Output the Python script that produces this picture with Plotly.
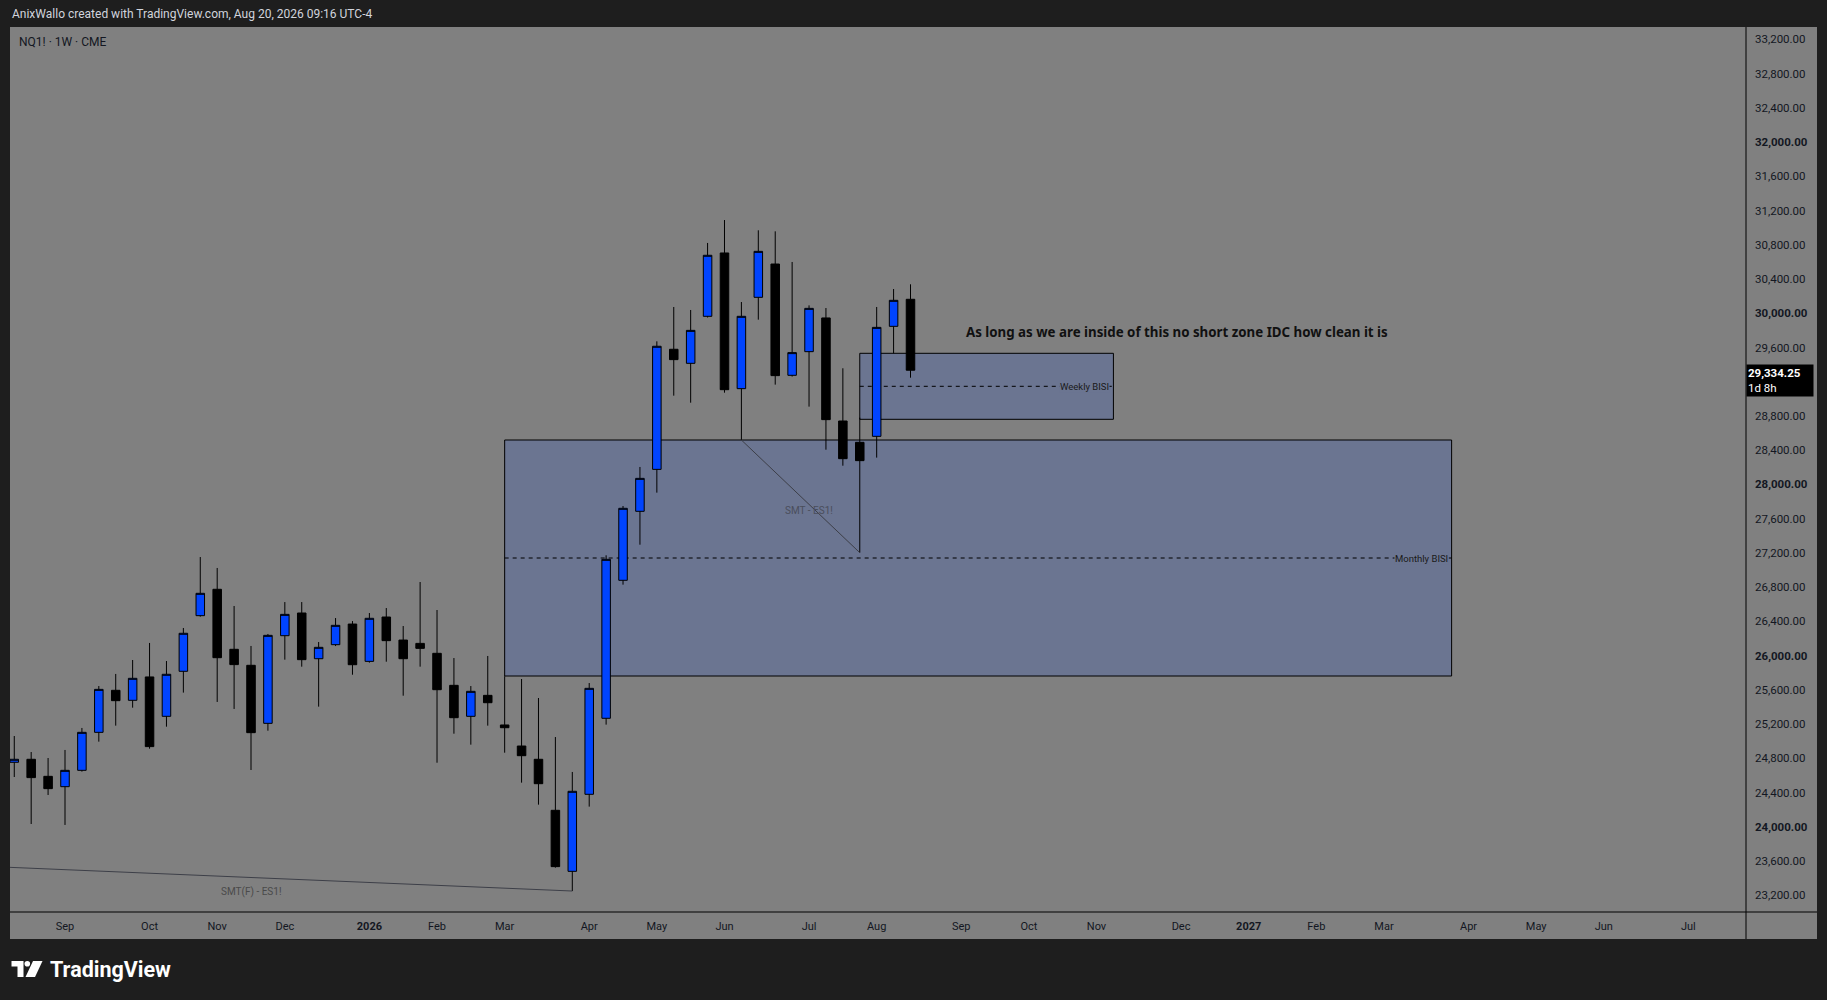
import pandas as pd
import plotly.graph_objects as go

# ---------------- data ----------------
weeks = pd.date_range("2025-08-11", periods=54, freq="7D")

opens = [24754, 24789, 24590, 24469, 24660, 25104, 25595, 25478, 25751, 25291,
         25817, 26467, 26775, 26074, 25887, 25209, 26233, 26498, 25964, 26128,
         26369, 25933, 26451, 26182, 26143, 26027, 25653, 25291, 25536, 25190,
         24944, 24789, 24193, 23480, 24380, 25268, 26880, 27686, 28176, 29579,
         29415, 29964, 30704, 29119, 30186, 30575, 29275, 29551, 29945, 28741,
         28492, 28562, 29847, 30163]
highs = [25061, 24874, 24804, 24898, 25155, 25645, 25786, 25949, 26148, 25937,
         26323, 27152, 27024, 26580, 26113, 26253, 26626, 26626, 26159, 26439,
         26404, 26498, 26556, 26346, 26860, 26533, 25972, 25645, 25996, 25760,
         25727, 25505, 25049, 24641, 25680, 27172, 27748, 28204, 29672, 30073,
         30038, 30821, 31089, 30131, 30969, 30957, 30599, 30092, 30061, 29357,
         28780, 30073, 30283, 30338]
lows = [24582, 24033, 24372, 24022, 24645, 24995, 25182, 25392, 24913, 25170,
        25568, 26455, 25459, 25377, 24664, 25123, 25953, 25871, 25404, 26112,
        25777, 25918, 25929, 25532, 25871, 24749, 25088, 24960, 25182, 24866,
        24516, 24259, 23523, 23250, 24236, 25194, 26829, 27296, 27904, 29037,
        28955, 29950, 29072, 28519, 29925, 29166, 29260, 28909, 28406, 28219,
        27203, 28313, 29532, 29247]
closes = [24789, 24575, 24446, 24660, 25104, 25606, 25474, 25735, 24937, 25782,
          26261, 26728, 25976, 25895, 25100, 26237, 26482, 25953, 26097, 26354,
          25894, 26436, 26175, 25964, 26085, 25602, 25275, 25583, 25450, 25158,
          24831, 24504, 23535, 24415, 25618, 27125, 27721, 28071, 29614, 29458,
          29800, 30677, 29107, 29964, 30723, 29271, 29540, 30057, 28757, 28301,
          28278, 29835, 30151, 29334.25]

last_price = 29334.25
last_countdown = "1d 8h"

# zones: [left week, right week, top, bottom]
weekly_bisi = ["2026-07-27", "2026-11-09", 29532, 28761]
monthly_bisi = ["2026-03-02", "2027-03-29", 28519, 25762]

# SMT lines (date, price)
smt_dates = ["2026-06-08", "2026-07-27"]
smt_prices = [28519, 27203]
smtf_dates = ["2025-04-14", "2026-03-30"]
smtf_prices = [23666, 23250]

note_text = "As long as we are inside of this no short zone IDC how clean it is"
note_pos = ["2026-09-08", 29781]
smt_label_pos = ["2026-07-06", 27690]
smtf_label_pos = ["2025-11-17", 23235]

month_tick_dates = ["2025-09-01", "2025-10-06", "2025-11-03", "2025-12-01", "2026-01-05",
                    "2026-02-02", "2026-03-02", "2026-04-06", "2026-05-04", "2026-06-01",
                    "2026-07-06", "2026-08-03", "2026-09-07", "2026-10-05", "2026-11-02",
                    "2026-12-07", "2027-01-04", "2027-02-01", "2027-03-01", "2027-04-05",
                    "2027-05-03", "2027-05-31", "2027-07-05"]
month_tick_text = ["Sep", "Oct", "Nov", "Dec", "<b>2026</b>", "Feb", "Mar", "Apr", "May", "Jun",
                   "Jul", "Aug", "Sep", "Oct", "Nov", "Dec", "<b>2027</b>", "Feb", "Mar", "Apr",
                   "May", "Jun", "Jul"]
price_ticks = [23200, 23600, 24000, 24400, 24800, 25200, 25600, 26000, 26400, 26800,
               27200, 27600, 28000, 28400, 28800, 29200, 29600, 30000, 30400, 30800,
               31200, 31600, 32000, 32400, 32800, 33200]
price_tick_text = [("<b>%s</b>" if v % 2000 == 0 else "%s") % f"{v:,.2f}" for v in price_ticks]
# 29,200 label hidden behind the price tag in the reference
price_tick_text = [t if v != 29200 else "" for t, v in zip(price_tick_text, price_ticks)]

# ---------------- style ----------------
BLUE = "#0044ff"
ZONE = "#6b7591"
GRAY = "#808080"
DARK = "#1e1e1e"
FONT = "Roboto"

# plot area in pixels: x 10..1746, y 27..912
PX_L, PX_R, PX_T, PX_B = 10, 1746, 27, 912
PW, PH = PX_R - PX_L, PX_B - PX_T


def px_x(px):
    return (px - PX_L) / PW


def px_y(py):
    return (PX_B - py) / PH


week0 = pd.Timestamp("2025-09-01")
px_per_week = 16.91
x_left = week0 + pd.Timedelta(days=7 * (PX_L - 65) / px_per_week)
x_right = week0 + pd.Timedelta(days=7 * (PX_R - 65) / px_per_week)

fig = go.Figure()

fig.add_trace(go.Candlestick(
    x=weeks, open=opens, high=highs, low=lows, close=closes,
    increasing=dict(fillcolor=BLUE, line=dict(color="#000000", width=1)),
    decreasing=dict(fillcolor="#000000", line=dict(color="#000000", width=1)),
    whiskerwidth=0, hoverinfo="skip", showlegend=False,
))

fig.add_trace(go.Scatter(x=smt_dates, y=smt_prices, mode="lines",
                         line=dict(color="#3d3f48", width=1), hoverinfo="skip", showlegend=False))
fig.add_trace(go.Scatter(x=smtf_dates, y=smtf_prices, mode="lines",
                         line=dict(color="#3d3f48", width=1), hoverinfo="skip", showlegend=False))

shapes = []
# chart panel background (includes axes)
shapes.append(dict(type="rect", xref="paper", yref="paper", x0=0, x1=px_x(1817), y0=px_y(939), y1=1,
                   fillcolor=GRAY, line=dict(width=0), layer="below"))
# zones
for z in (monthly_bisi, weekly_bisi):
    shapes.append(dict(type="rect", xref="x", yref="y", x0=z[0], x1=z[1], y0=z[3], y1=z[2],
                       fillcolor=ZONE, line=dict(color="#000000", width=1), layer="below"))
    mid = (z[2] + z[3]) / 2
    shapes.append(dict(type="line", xref="x", yref="y", x0=z[0], x1=z[1], y0=mid, y1=mid,
                       line=dict(color="#000000", width=1, dash="4px,4px"), layer="below"))
# separators
shapes.append(dict(type="line", xref="paper", yref="paper", x0=1, x1=1, y0=px_y(939), y1=1,
                   line=dict(color="#000000", width=1)))
shapes.append(dict(type="line", xref="paper", yref="paper", x0=0, x1=px_x(1817), y0=0, y1=0,
                   line=dict(color="#000000", width=1)))
# TradingView logo mark
ax, ay = px_x(11.5), px_y(969)
shapes.append(dict(type="path", xref="paper", yref="paper", xsizemode="pixel", ysizemode="pixel",
                   xanchor=ax, yanchor=ay,
                   path="M0,8 L12,8 L12,-8 L6,-8 L6,2.5 L0,2.5 Z",
                   fillcolor="#ffffff", line=dict(width=0)))
shapes.append(dict(type="circle", xref="paper", yref="paper", xsizemode="pixel", ysizemode="pixel",
                   xanchor=ax, yanchor=ay, x0=13, x1=18.6, y0=2.4, y1=8,
                   fillcolor="#ffffff", line=dict(width=0)))
shapes.append(dict(type="path", xref="paper", yref="paper", xsizemode="pixel", ysizemode="pixel",
                   xanchor=ax, yanchor=ay,
                   path="M21.5,8 L31,8 L23.5,-8 L14,-8 Z",
                   fillcolor="#ffffff", line=dict(width=0)))

annotations = [
    dict(xref="paper", yref="paper", x=0, y=px_y(14), xanchor="left", yanchor="middle",
         text="AnixWallo created with TradingView.com, Aug 20, 2026 09:16 UTC-4", showarrow=False,
         font=dict(family=FONT, size=12, color="#d1d4dc")),
    dict(xref="paper", yref="paper", x=px_x(17), y=px_y(42), xanchor="left", yanchor="middle",
         text="NQ1! · 1W · CME", showarrow=False, font=dict(family=FONT, size=12, color="#131722")),
    dict(xref="x", yref="y", x=note_pos[0], y=note_pos[1], xanchor="left", yanchor="middle",
         text="<b>" + note_text + "</b>", showarrow=False,
         font=dict(family="Noto Sans", size=13.3, color="#111111")),
    dict(xref="x", yref="y", x=weekly_bisi[1], y=(weekly_bisi[2] + weekly_bisi[3]) / 2,
         xanchor="right", yanchor="middle", xshift=-3, text="Weekly BISI", showarrow=False,
         bgcolor=ZONE, borderpad=0, font=dict(family=FONT, size=9.5, color="#1a1a1a")),
    dict(xref="x", yref="y", x=monthly_bisi[1], y=(monthly_bisi[2] + monthly_bisi[3]) / 2,
         xanchor="right", yanchor="middle", xshift=-3, text="Monthly BISI", showarrow=False,
         bgcolor=ZONE, borderpad=0, font=dict(family=FONT, size=9.5, color="#1a1a1a")),
    dict(xref="x", yref="y", x=smt_label_pos[0], y=smt_label_pos[1], xanchor="center", yanchor="middle",
         text="SMT - ES1!", showarrow=False, font=dict(family=FONT, size=10, color="#4a4e5c")),
    dict(xref="x", yref="y", x=smtf_label_pos[0], y=smtf_label_pos[1], xanchor="center", yanchor="middle",
         text="SMT(F) - ES1!", showarrow=False, font=dict(family=FONT, size=10, color="#4a4a4a")),
    dict(xref="paper", yref="y", x=1, y=last_price, xanchor="left", yanchor="top", yshift=6,
         text="<b>%s</b><br>%s" % (f"{last_price:,.2f}", last_countdown), showarrow=False, align="left",
         bgcolor="#000000", borderpad=1, width=64,
         font=dict(family=FONT, size=11.5, color="#ffffff")),
    dict(xref="paper", yref="paper", x=px_x(48), y=px_y(970), xanchor="left", yanchor="middle",
         text="<b>TradingView</b>", showarrow=False, font=dict(family=FONT, size=21.5, color="#ffffff")),
]

fig.update_layout(
    width=1827, height=1000,
    margin=dict(l=PX_L, r=1827 - PX_R, t=PX_T, b=1000 - PX_B, pad=0),
    paper_bgcolor=DARK, plot_bgcolor=GRAY,
    showlegend=False, boxgap=0.28, hovermode=False,
    shapes=shapes, annotations=annotations,
    xaxis=dict(type="date", range=[x_left, x_right], tickmode="array",
               tickvals=month_tick_dates, ticktext=month_tick_text,
               showgrid=False, zeroline=False, showline=False, ticks="",
               rangeslider=dict(visible=False), fixedrange=True,
               tickfont=dict(family=FONT, size=11, color="#131722"), ticklabelstandoff=6),
    yaxis=dict(side="right", range=[23005, 33344], tickmode="array",
               tickvals=price_ticks, ticktext=price_tick_text,
               showgrid=False, zeroline=False, showline=False, ticks="",
               tickfont=dict(family=FONT, size=11.5, color="#131722"), ticklabelstandoff=8,
               fixedrange=True),
)

fig.write_html("out.html", config={"displayModeBar": False},
               post_script="document.body.style.margin='0';document.body.style.overflow='hidden';")
